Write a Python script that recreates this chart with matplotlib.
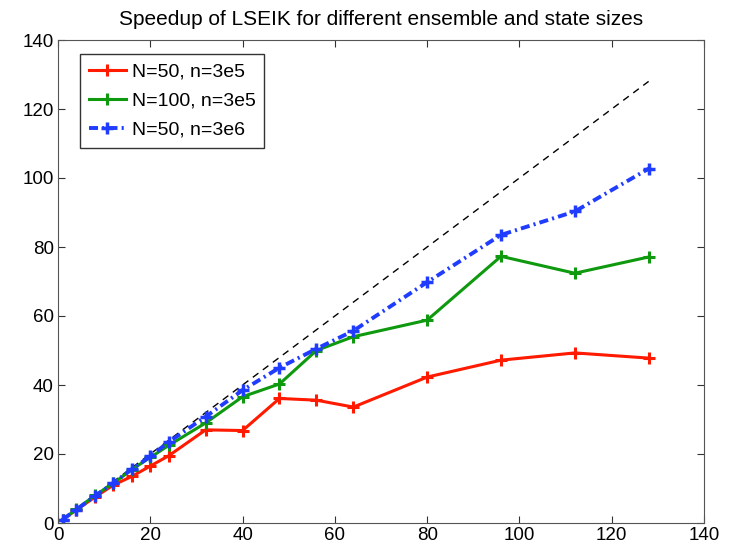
import numpy as np
from matplotlib import pyplot as plt

plt.rcParams['font.family'] = ['Liberation Sans', 'DejaVu Sans']
plt.rcParams['lines.scale_dashes'] = False

# processes used
procs = [1, 4, 8, 12, 16, 20, 24, 32, 40, 48, 56, 64, 80, 96, 112, 128]

# speedups
speedup_n50_3e5 = [1, 3.8, 7.5, 11, 13.5, 16.5, 19.5, 27, 26.8, 36.1, 35.6, 33.6, 42.3, 47.2, 49.3, 47.8]
speedup_n100_3e5 = [1, 4, 8, 11.5, 15.5, 19, 22.5, 29, 36.6, 40.3, 50, 54, 58.8, 77.3, 72.4, 77.1]
speedup_n50_3e6 = [1, 3.9, 7.8, 11.6, 15.6, 19.3, 23.5, 30.8, 38.5, 45, 50.5, 55.7, 69.8, 83.5, 90.3, 102.7]

ideal = [1, 128]

fig = plt.figure(figsize=(7.29, 5.49), dpi=100)
ax = fig.add_axes([58/729, 26/549, 646/729, 483/549])

ax.plot(ideal, ideal, color='black', lw=1, dashes=(5, 4))
ax.plot(procs, speedup_n50_3e5, '-', color='#ff1a00', lw=2.2, marker='+',
        ms=8, mew=2.2, label='N=50, n=3e5')
ax.plot(procs, speedup_n100_3e5, '-', color='#0f990f', lw=2.2, marker='+',
        ms=8, mew=2.2, label='N=100, n=3e5')
ax.plot(procs, speedup_n50_3e6, color='#1f3cff', lw=2.8, marker='+',
        ms=8, mew=2.5, dashes=(6.5, 3, 1.5, 3), label='N=50, n=3e6')

ax.set_xlim(0, 140)
ax.set_ylim(0, 140)
ax.set_xticks(np.arange(0, 141, 20))
ax.set_yticks(np.arange(0, 141, 20))
ax.tick_params(direction='in', top=True, right=True, labelsize=13.5, length=5,
               color='#333333', pad=3)
for s in ax.spines.values():
    s.set_color('#555555')

ax.set_title("Speedup of LSEIK for different ensemble and state sizes", fontsize=15, pad=11)

leg = ax.legend(loc='upper left', bbox_to_anchor=(22/646, 1 - 14/483), borderaxespad=0,
                fontsize=14, fancybox=False, edgecolor='#333333', handlelength=1.9,
                handletextpad=0.3, labelspacing=0.6, borderpad=0.45, framealpha=1)
leg.get_frame().set_linewidth(1)

fig.savefig('out.png', dpi=100)
